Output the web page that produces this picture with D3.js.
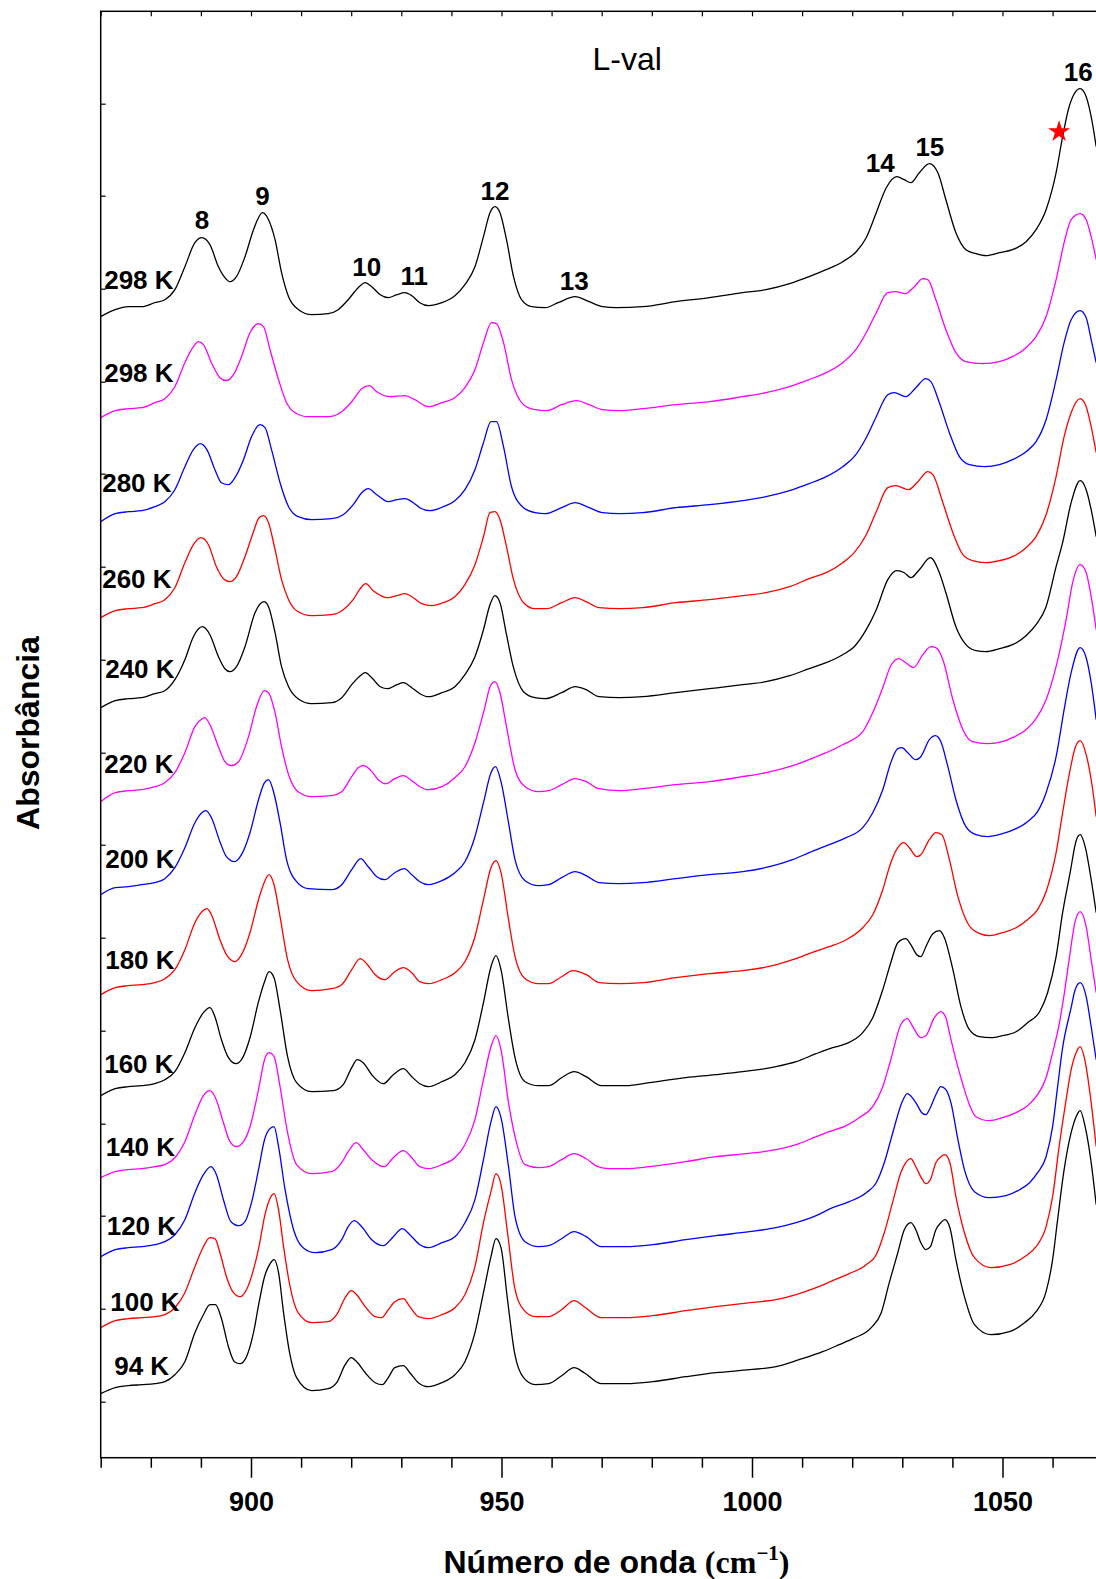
<!DOCTYPE html>
<html>
<head>
<meta charset="utf-8">
<script src="https://cdn.jsdelivr.net/npm/d3@7"></script>
<style>
  html, body { margin: 0; padding: 0; background: #fff; }
  svg { display: block; }
</style>
</head>
<body>
<svg id="chart" width="1096" height="1579"></svg>
<script>
// Stacked FTIR spectra of L-valine, 870–1070 cm-1, recorded from 298 K down to 94 K.
// Each spectrum is a list of [wavenumber (cm-1), absorbance (a.u., offset for stacking)].

const spec298a = [[870,1.141],[872.9,1.148],[875.5,1.151],[878.2,1.151],[880.8,1.155],[882.8,1.158],[884.8,1.168],[886.8,1.191],[888.8,1.215],[890.2,1.220],[891.8,1.213],[893.5,1.191],[894.8,1.180],[895.8,1.176],[897.1,1.181],[898.8,1.201],[900.5,1.228],[902.3,1.245],[903.5,1.238],[904.8,1.218],[906.1,1.185],[907.5,1.161],[909.5,1.148],[912.1,1.143],[915.4,1.144],[917.4,1.148],[919.4,1.158],[921.4,1.170],[922.8,1.175],[924.1,1.171],[925.8,1.163],[927.4,1.160],[929.1,1.163],[930.7,1.165],[932.1,1.162],[933.7,1.155],[935.4,1.152],[938.1,1.155],[940.7,1.162],[942.7,1.173],[944.7,1.191],[946.4,1.221],[947.7,1.245],[948.7,1.251],[949.7,1.245],[951.0,1.218],[952.4,1.181],[954.0,1.158],[956.0,1.151],[958.7,1.150],[961.3,1.155],[964.7,1.161],[967.5,1.156],[970.2,1.151],[972.9,1.150],[978.2,1.151],[984.8,1.156],[991.5,1.160],[998.1,1.165],[1002.8,1.168],[1007.5,1.174],[1011.4,1.181],[1014.8,1.188],[1018.1,1.196],[1020.8,1.206],[1022.8,1.220],[1024.8,1.245],[1026.8,1.270],[1028.9,1.281],[1030.4,1.278],[1031.7,1.275],[1033.4,1.285],[1035.4,1.294],[1037.1,1.285],[1038.7,1.258],[1040.7,1.225],[1042.7,1.208],[1044.7,1.204],[1046.7,1.202],[1049.4,1.205],[1052.0,1.208],[1054.7,1.216],[1056.7,1.228],[1058.7,1.248],[1060.7,1.285],[1062.0,1.321],[1063.3,1.351],[1065.5,1.369],[1066.7,1.361],[1067.7,1.341],[1068.7,1.311]];

const spec298b = [[870,1.040],[872.9,1.047],[875.5,1.049],[878.2,1.050],[880.8,1.055],[882.8,1.059],[884.8,1.071],[886.8,1.095],[888.5,1.111],[889.5,1.116],[890.5,1.113],[892.1,1.095],[893.8,1.080],[895.1,1.077],[896.5,1.083],[898.1,1.101],[899.8,1.125],[901.5,1.134],[902.5,1.131],[903.8,1.108],[905.5,1.078],[907.1,1.055],[908.8,1.045],[911.4,1.041],[915.4,1.041],[918.1,1.046],[920.1,1.056],[922.1,1.069],[923.6,1.072],[925.1,1.066],[927.7,1.061],[930.7,1.062],[932.7,1.058],[935.4,1.051],[938.1,1.055],[940.7,1.060],[942.7,1.070],[944.7,1.088],[946.4,1.115],[948.0,1.135],[949.0,1.134],[950.4,1.115],[952.0,1.078],[954.4,1.053],[956.7,1.048],[959.0,1.047],[962.0,1.053],[965.0,1.057],[967.5,1.053],[970.2,1.048],[973.5,1.047],[978.2,1.049],[984.8,1.053],[991.5,1.056],[998.1,1.061],[1002.8,1.065],[1007.5,1.071],[1011.4,1.078],[1014.8,1.085],[1018.1,1.095],[1020.4,1.106],[1022.8,1.125],[1024.8,1.145],[1027.1,1.165],[1028.7,1.166],[1030.6,1.164],[1032.4,1.171],[1034.1,1.179],[1035.1,1.178],[1036.7,1.158],[1038.7,1.128],[1040.7,1.105],[1042.7,1.096],[1046.0,1.094],[1049.4,1.096],[1052.0,1.101],[1054.7,1.110],[1056.7,1.121],[1058.7,1.141],[1060.7,1.178],[1062.3,1.215],[1063.7,1.238],[1065.5,1.244],[1066.7,1.238],[1067.7,1.221],[1068.7,1.198]];

const spec280 = [[870,0.936],[872.9,0.944],[875.5,0.946],[878.2,0.947],[880.8,0.951],[882.8,0.956],[884.8,0.968],[886.8,0.991],[888.5,1.008],[889.9,1.014],[891.2,1.008],[892.8,0.988],[894.1,0.975],[895.5,0.973],[896.8,0.980],[898.5,0.998],[900.1,1.021],[901.8,1.033],[902.8,1.030],[904.1,1.008],[905.8,0.975],[907.5,0.951],[909.4,0.941],[912.1,0.938],[916.1,0.939],[918.4,0.943],[920.4,0.953],[922.1,0.965],[923.4,0.969],[925.1,0.963],[927.4,0.956],[929.1,0.958],[930.7,0.959],[932.4,0.955],[933.7,0.950],[935.7,0.947],[938.4,0.951],[940.7,0.957],[942.7,0.968],[944.7,0.988],[946.4,1.015],[947.9,1.036],[949.0,1.036],[950.4,1.011],[952.0,0.971],[954.4,0.950],[956.7,0.945],[958.7,0.944],[962.0,0.950],[964.7,0.955],[967.5,0.950],[970.2,0.945],[973.5,0.944],[978.2,0.945],[984.8,0.950],[991.5,0.953],[998.1,0.957],[1002.8,0.961],[1007.5,0.967],[1011.4,0.974],[1014.8,0.981],[1018.1,0.991],[1020.4,1.001],[1022.8,1.020],[1024.8,1.041],[1027.1,1.063],[1028.4,1.065],[1030.7,1.061],[1032.7,1.070],[1034.7,1.079],[1035.7,1.076],[1037.4,1.055],[1039.4,1.025],[1041.4,1.001],[1043.4,0.993],[1046.4,0.991],[1049.4,0.993],[1052.0,0.998],[1054.7,1.006],[1056.7,1.016],[1058.7,1.038],[1060.7,1.078],[1062.3,1.115],[1063.7,1.138],[1065.5,1.147],[1066.7,1.140],[1067.7,1.118],[1068.7,1.095]];

const spec260 = [[870,0.840],[872.9,0.847],[875.5,0.849],[878.2,0.850],[880.8,0.854],[882.8,0.858],[884.8,0.870],[886.8,0.895],[888.5,0.913],[890.0,0.920],[891.5,0.913],[893.1,0.891],[894.5,0.879],[895.8,0.876],[897.1,0.881],[898.8,0.901],[900.5,0.926],[901.6,0.940],[902.5,0.942],[903.5,0.935],[904.8,0.908],[906.1,0.878],[907.5,0.858],[909.1,0.847],[912.1,0.842],[916.1,0.843],[918.4,0.848],[920.4,0.858],[921.8,0.869],[922.9,0.874],[924.4,0.867],[927.3,0.860],[929.1,0.862],[930.7,0.864],[932.4,0.860],[934.1,0.854],[936.1,0.852],[938.4,0.855],[940.7,0.861],[942.7,0.873],[944.7,0.893],[946.4,0.921],[947.7,0.945],[948.7,0.946],[949.7,0.938],[951.0,0.911],[952.4,0.878],[954.4,0.855],[956.7,0.849],[959.0,0.849],[962.0,0.855],[964.7,0.860],[966.9,0.856],[969.5,0.850],[973.5,0.849],[978.2,0.850],[984.8,0.855],[991.5,0.858],[998.1,0.862],[1002.8,0.865],[1007.5,0.871],[1011.4,0.879],[1014.8,0.885],[1018.1,0.895],[1020.4,0.905],[1022.8,0.923],[1024.8,0.946],[1027.1,0.970],[1028.7,0.972],[1031.2,0.968],[1033.1,0.976],[1035.1,0.986],[1036.1,0.983],[1038.1,0.955],[1040.1,0.925],[1042.1,0.903],[1044.0,0.897],[1046.7,0.895],[1049.4,0.897],[1052.0,0.901],[1054.7,0.910],[1056.7,0.921],[1058.7,0.943],[1060.7,0.981],[1062.3,1.021],[1063.7,1.045],[1065.5,1.059],[1066.7,1.051],[1067.7,1.031],[1068.7,1.005]];

const spec240 = [[870,0.750],[872.9,0.757],[875.5,0.759],[878.2,0.760],[880.8,0.764],[882.8,0.767],[884.8,0.778],[886.8,0.798],[888.5,0.821],[890.3,0.831],[891.8,0.823],[893.5,0.801],[894.8,0.789],[895.8,0.786],[897.1,0.791],[898.8,0.811],[900.8,0.845],[902.6,0.856],[903.5,0.851],[904.8,0.825],[906.1,0.791],[907.5,0.771],[909.4,0.759],[912.1,0.754],[916.1,0.755],[918.1,0.760],[920.1,0.773],[921.8,0.782],[922.8,0.785],[924.1,0.780],[925.8,0.771],[927.3,0.769],[929.1,0.773],[930.4,0.775],[932.1,0.770],[933.7,0.764],[935.4,0.761],[938.1,0.765],[940.7,0.771],[942.7,0.783],[944.7,0.801],[946.4,0.828],[947.7,0.853],[948.7,0.862],[949.7,0.855],[951.0,0.823],[952.4,0.790],[954.4,0.766],[956.7,0.760],[958.7,0.759],[962.0,0.765],[964.7,0.771],[966.9,0.768],[969.5,0.761],[973.5,0.760],[978.2,0.761],[984.8,0.765],[991.5,0.769],[998.1,0.773],[1002.8,0.776],[1007.5,0.782],[1011.4,0.789],[1014.8,0.795],[1018.1,0.803],[1020.4,0.811],[1022.8,0.828],[1024.8,0.848],[1027.1,0.878],[1028.9,0.887],[1030.4,0.885],[1031.7,0.880],[1033.4,0.888],[1035.6,0.900],[1037.4,0.885],[1038.7,0.865],[1040.7,0.831],[1042.7,0.813],[1044.7,0.807],[1046.7,0.806],[1049.4,0.809],[1052.0,0.813],[1054.7,0.822],[1056.7,0.833],[1058.7,0.851],[1060.7,0.891],[1062.0,0.915],[1063.7,0.955],[1065.5,0.977],[1066.7,0.968],[1067.7,0.948],[1068.7,0.921]];

const spec220 = [[870,0.656],[872.9,0.665],[875.5,0.667],[878.2,0.668],[880.8,0.671],[882.8,0.675],[884.8,0.685],[886.8,0.705],[888.8,0.731],[890.0,0.738],[890.8,0.740],[891.8,0.733],[893.5,0.711],[894.8,0.696],[896.0,0.692],[897.5,0.696],[899.5,0.721],[901.1,0.751],[902.7,0.767],[903.5,0.765],[904.8,0.745],[906.1,0.711],[907.5,0.683],[909.4,0.666],[912.1,0.661],[916.1,0.662],[918.1,0.666],[920.1,0.681],[921.4,0.690],[922.4,0.692],[923.8,0.688],[925.4,0.678],[926.9,0.674],[928.7,0.679],[930.4,0.682],[932.1,0.677],[933.7,0.671],[935.4,0.668],[938.1,0.671],[940.7,0.680],[942.7,0.691],[944.7,0.715],[946.4,0.745],[947.9,0.773],[948.7,0.776],[949.7,0.765],[951.0,0.731],[952.7,0.688],[954.7,0.671],[957.4,0.666],[959.4,0.667],[962.0,0.673],[964.7,0.679],[966.9,0.676],[969.5,0.669],[973.5,0.667],[978.2,0.669],[984.8,0.673],[991.5,0.676],[998.1,0.681],[1002.8,0.685],[1007.5,0.691],[1011.4,0.698],[1014.8,0.705],[1018.1,0.713],[1022.1,0.726],[1024.1,0.745],[1026.1,0.770],[1027.7,0.792],[1029.3,0.799],[1030.7,0.795],[1032.2,0.790],[1034.1,0.803],[1035.7,0.811],[1036.7,0.810],[1038.1,0.798],[1040.1,0.758],[1042.1,0.728],[1044.0,0.716],[1047.0,0.714],[1050.0,0.716],[1052.0,0.720],[1054.7,0.728],[1056.7,0.739],[1058.7,0.758],[1060.7,0.791],[1062.7,0.838],[1064.0,0.875],[1065.5,0.893],[1066.7,0.885],[1067.7,0.861],[1068.7,0.828]];

const spec200 = [[870,0.563],[872.9,0.570],[875.5,0.571],[878.2,0.573],[880.8,0.575],[882.8,0.579],[884.8,0.590],[886.8,0.610],[888.8,0.635],[890.2,0.645],[891.0,0.647],[892.1,0.640],[893.8,0.616],[895.1,0.601],[896.7,0.596],[898.1,0.603],[899.8,0.625],[901.5,0.658],[902.7,0.675],[903.5,0.678],[904.5,0.666],[905.8,0.635],[907.1,0.598],[909.1,0.576],[911.4,0.569],[916.1,0.568],[918.1,0.573],[920.1,0.588],[921.9,0.599],[923.4,0.591],[925.1,0.581],[926.7,0.578],[928.7,0.585],[930.6,0.589],[932.1,0.583],[933.7,0.576],[935.4,0.573],[938.1,0.577],[940.7,0.585],[942.7,0.596],[944.7,0.621],[946.4,0.655],[947.9,0.685],[948.8,0.691],[949.9,0.676],[951.4,0.635],[952.7,0.598],[954.7,0.577],[957.4,0.572],[959.4,0.573],[962.0,0.580],[964.7,0.586],[966.9,0.582],[969.5,0.575],[973.5,0.574],[978.2,0.575],[984.8,0.579],[991.5,0.583],[998.1,0.586],[1003.5,0.591],[1008.1,0.598],[1011.4,0.605],[1015.4,0.613],[1018.8,0.620],[1022.1,0.630],[1024.1,0.645],[1026.1,0.668],[1027.7,0.695],[1029.1,0.709],[1029.9,0.710],[1031.1,0.705],[1032.7,0.698],[1033.7,0.701],[1035.4,0.718],[1036.6,0.722],[1037.7,0.716],[1039.1,0.691],[1040.7,0.658],[1042.7,0.631],[1044.7,0.623],[1047.0,0.621],[1050.0,0.624],[1052.7,0.629],[1055.0,0.636],[1057.0,0.646],[1058.7,0.665],[1060.7,0.701],[1062.3,0.748],[1063.7,0.785],[1065.5,0.810],[1066.7,0.800],[1067.7,0.775],[1068.7,0.738]];

const spec180 = [[870,0.463],[872.9,0.470],[875.5,0.472],[878.2,0.473],[880.8,0.475],[882.8,0.479],[884.8,0.488],[886.8,0.508],[888.8,0.535],[890.2,0.546],[891.2,0.549],[892.1,0.543],[893.8,0.518],[895.1,0.503],[896.8,0.496],[898.1,0.503],[899.8,0.525],[901.5,0.558],[902.7,0.576],[903.6,0.583],[904.6,0.573],[905.9,0.538],[907.3,0.498],[909.1,0.476],[912.1,0.467],[916.1,0.469],[918.1,0.473],[920.1,0.488],[921.8,0.499],[923.1,0.494],[924.8,0.483],[926.7,0.478],[928.7,0.486],[930.4,0.490],[932.1,0.485],[933.7,0.476],[935.4,0.474],[938.1,0.478],[940.7,0.485],[942.7,0.496],[944.7,0.521],[946.4,0.558],[947.9,0.590],[948.9,0.597],[949.9,0.585],[951.4,0.538],[952.7,0.501],[954.7,0.479],[957.4,0.474],[959.4,0.474],[962.0,0.481],[964.3,0.487],[966.9,0.483],[969.5,0.475],[973.5,0.474],[978.2,0.475],[984.8,0.480],[991.5,0.484],[998.1,0.487],[1004.1,0.492],[1008.1,0.498],[1011.4,0.504],[1015.4,0.511],[1018.8,0.518],[1022.1,0.530],[1024.1,0.543],[1026.1,0.568],[1027.7,0.595],[1029.1,0.610],[1030.3,0.615],[1031.4,0.610],[1032.9,0.601],[1033.7,0.603],[1035.4,0.618],[1036.7,0.625],[1037.9,0.623],[1039.4,0.598],[1041.1,0.561],[1043.0,0.535],[1045.0,0.525],[1047.4,0.522],[1050.0,0.525],[1052.7,0.530],[1055.0,0.538],[1057.0,0.548],[1058.7,0.566],[1060.7,0.605],[1062.0,0.645],[1063.5,0.688],[1064.5,0.710],[1065.5,0.717],[1066.7,0.703],[1067.7,0.678],[1068.7,0.641]];

const spec160 = [[870,0.362],[872.9,0.369],[875.5,0.371],[878.2,0.372],[880.8,0.374],[882.8,0.378],[884.8,0.386],[886.8,0.405],[888.8,0.430],[890.5,0.445],[891.8,0.450],[892.8,0.441],[894.1,0.418],[895.5,0.400],[897.0,0.394],[898.1,0.398],[899.8,0.420],[901.5,0.456],[902.7,0.476],[903.6,0.486],[904.6,0.480],[905.8,0.448],[907.3,0.401],[909.1,0.375],[912.1,0.366],[916.4,0.367],[918.4,0.373],[920.1,0.390],[921.2,0.398],[922.4,0.395],[924.1,0.383],[926.4,0.374],[928.4,0.383],[930.4,0.389],[932.1,0.381],[933.7,0.374],[935.4,0.371],[938.1,0.376],[940.7,0.383],[942.7,0.395],[944.7,0.418],[946.4,0.455],[947.9,0.491],[948.9,0.502],[949.9,0.488],[951.4,0.438],[952.7,0.400],[954.7,0.376],[957.4,0.372],[959.4,0.372],[962.0,0.380],[964.5,0.386],[966.9,0.381],[969.9,0.372],[974.9,0.372],[979.5,0.375],[986.8,0.380],[992.8,0.383],[998.1,0.386],[1004.8,0.391],[1008.8,0.396],[1012.8,0.404],[1016.1,0.410],[1018.8,0.414],[1022.1,0.425],[1024.1,0.440],[1026.1,0.468],[1027.7,0.495],[1029.1,0.515],[1030.7,0.519],[1031.7,0.513],[1032.9,0.503],[1033.7,0.501],[1034.7,0.511],[1036.1,0.524],[1037.4,0.527],[1038.4,0.520],[1040.1,0.488],[1041.7,0.451],[1043.4,0.428],[1045.4,0.421],[1047.7,0.420],[1050.0,0.422],[1052.7,0.426],[1055.0,0.435],[1057.4,0.446],[1059.0,0.465],[1060.7,0.501],[1062.0,0.545],[1063.5,0.585],[1064.7,0.617],[1065.5,0.623],[1066.5,0.611],[1067.7,0.578],[1068.7,0.545]];

const spec140 = [[870,0.280],[872.9,0.286],[875.5,0.288],[878.2,0.289],[880.8,0.291],[882.8,0.293],[884.8,0.300],[886.8,0.316],[888.8,0.343],[890.5,0.362],[891.8,0.367],[892.9,0.360],[894.5,0.335],[895.8,0.316],[897.1,0.311],[898.5,0.316],[899.8,0.331],[901.5,0.368],[902.7,0.398],[903.6,0.405],[904.6,0.401],[905.8,0.371],[907.3,0.325],[909.1,0.293],[912.1,0.284],[916.1,0.286],[918.1,0.295],[919.4,0.306],[921.0,0.315],[922.4,0.308],[924.1,0.298],[926.6,0.291],[928.4,0.300],[930.4,0.307],[932.1,0.300],[933.7,0.291],[935.4,0.289],[938.1,0.293],[940.7,0.300],[942.7,0.313],[944.7,0.338],[946.4,0.378],[947.9,0.411],[948.9,0.422],[949.9,0.408],[951.4,0.355],[952.7,0.321],[954.7,0.293],[957.4,0.290],[959.4,0.291],[962.0,0.298],[964.5,0.304],[966.9,0.299],[969.2,0.291],[971.5,0.289],[974.9,0.289],[979.5,0.291],[986.8,0.296],[992.8,0.301],[998.8,0.304],[1004.8,0.308],[1008.8,0.313],[1012.8,0.321],[1015.4,0.326],[1018.8,0.332],[1021.4,0.340],[1024.1,0.351],[1026.1,0.371],[1027.7,0.398],[1029.7,0.433],[1031.0,0.439],[1032.1,0.431],[1033.7,0.420],[1034.7,0.422],[1036.4,0.440],[1037.7,0.446],[1038.7,0.440],[1039.4,0.425],[1040.7,0.398],[1042.1,0.373],[1043.4,0.353],[1044.7,0.341],[1047.4,0.337],[1050.0,0.340],[1052.7,0.345],[1055.0,0.352],[1057.0,0.363],[1058.7,0.380],[1060.0,0.405],[1061.3,0.433],[1062.3,0.463],[1063.3,0.498],[1064.5,0.536],[1065.5,0.546],[1066.7,0.531],[1067.7,0.498],[1068.7,0.465]];

const spec120 = [[870,0.201],[872.9,0.208],[875.5,0.210],[878.2,0.211],[880.8,0.213],[882.8,0.216],[884.8,0.223],[886.8,0.238],[888.8,0.265],[890.5,0.283],[892.0,0.291],[893.1,0.283],[894.5,0.258],[896.0,0.236],[897.6,0.232],[898.8,0.236],[900.1,0.255],[901.5,0.288],[902.7,0.318],[903.6,0.328],[904.6,0.331],[905.5,0.311],[906.8,0.268],[908.5,0.228],[910.4,0.210],[912.8,0.205],[916.1,0.208],[918.1,0.218],[919.4,0.231],[920.6,0.237],[922.1,0.231],[924.1,0.218],[926.4,0.212],[928.4,0.221],[930.2,0.229],[931.7,0.223],[933.7,0.213],[935.4,0.210],[938.1,0.215],[940.7,0.221],[942.7,0.235],[944.7,0.258],[946.4,0.298],[947.9,0.336],[948.9,0.351],[949.9,0.340],[951.4,0.291],[952.7,0.241],[954.7,0.216],[957.4,0.211],[959.4,0.212],[962.0,0.219],[964.5,0.226],[966.9,0.221],[969.9,0.211],[974.9,0.211],[980.2,0.213],[986.8,0.218],[992.8,0.222],[999.5,0.226],[1004.8,0.230],[1008.8,0.235],[1012.8,0.242],[1016.1,0.250],[1019.4,0.256],[1022.8,0.265],[1024.8,0.275],[1026.4,0.295],[1028.1,0.325],[1029.9,0.355],[1031.0,0.364],[1032.7,0.355],[1033.9,0.345],[1034.7,0.343],[1035.6,0.350],[1036.7,0.363],[1037.7,0.371],[1038.7,0.368],[1039.7,0.355],[1041.1,0.318],[1042.4,0.288],[1044.4,0.266],[1047.4,0.260],[1050.7,0.262],[1053.4,0.268],[1055.4,0.275],[1057.0,0.285],[1058.7,0.301],[1060.0,0.331],[1061.0,0.371],[1062.0,0.410],[1063.7,0.450],[1064.5,0.468],[1065.5,0.475],[1066.7,0.461],[1067.7,0.431],[1068.7,0.398]];

const spec100 = [[870,0.130],[872.9,0.137],[875.5,0.139],[878.2,0.140],[880.8,0.141],[882.8,0.143],[884.8,0.150],[886.8,0.165],[888.8,0.191],[890.5,0.211],[891.8,0.220],[892.8,0.219],[893.8,0.205],[895.1,0.181],[896.5,0.165],[897.8,0.161],[899.1,0.168],[900.5,0.188],[901.6,0.211],[902.7,0.241],[903.6,0.257],[904.6,0.264],[905.5,0.248],[906.5,0.211],[907.8,0.171],[909.4,0.145],[912.1,0.135],[915.4,0.136],[917.1,0.143],[918.8,0.160],[920.0,0.167],[921.1,0.163],[922.8,0.151],[924.8,0.141],[926.1,0.140],[927.4,0.148],[928.7,0.156],[930.4,0.159],[931.7,0.151],[933.4,0.141],[935.4,0.139],[938.1,0.143],[940.7,0.150],[942.7,0.163],[944.7,0.191],[946.4,0.235],[947.9,0.266],[948.9,0.284],[949.9,0.273],[951.2,0.225],[952.6,0.171],[954.4,0.148],[956.7,0.141],[959.4,0.141],[962.0,0.148],[964.5,0.157],[966.5,0.151],[969.9,0.140],[974.9,0.140],[980.2,0.142],[986.8,0.147],[992.8,0.151],[999.5,0.155],[1004.8,0.158],[1008.8,0.163],[1012.8,0.170],[1016.1,0.177],[1019.4,0.184],[1022.8,0.193],[1024.8,0.203],[1026.4,0.225],[1028.1,0.256],[1029.7,0.285],[1030.7,0.295],[1031.7,0.299],[1032.7,0.291],[1033.9,0.279],[1034.7,0.274],[1035.6,0.278],[1036.7,0.295],[1037.7,0.301],[1038.5,0.303],[1039.5,0.295],[1040.7,0.261],[1042.4,0.225],[1044.4,0.200],[1047.7,0.190],[1051.4,0.193],[1054.4,0.201],[1056.7,0.211],[1058.7,0.231],[1060.0,0.261],[1061.3,0.311],[1062.7,0.358],[1063.7,0.388],[1064.7,0.405],[1065.5,0.411],[1066.5,0.396],[1067.7,0.355],[1068.7,0.311]];

const spec94 = [[870,0.064],[872.9,0.070],[875.5,0.072],[878.2,0.073],[880.8,0.074],[882.8,0.076],[884.8,0.083],[886.8,0.096],[888.8,0.125],[890.5,0.143],[891.8,0.153],[892.9,0.153],[894.0,0.141],[895.5,0.111],[896.7,0.096],[897.8,0.094],[899.1,0.101],[900.5,0.125],[901.6,0.155],[902.7,0.181],[903.7,0.193],[904.6,0.198],[905.5,0.185],[906.5,0.145],[907.7,0.105],[909.1,0.080],[912.1,0.067],[915.4,0.069],[917.1,0.075],[918.8,0.093],[920.0,0.100],[921.1,0.096],[922.8,0.085],[924.8,0.075],[926.2,0.073],[927.4,0.080],[928.7,0.090],[930.4,0.092],[931.7,0.085],[933.4,0.075],[935.4,0.071],[938.1,0.075],[940.7,0.083],[942.7,0.096],[944.7,0.125],[946.4,0.165],[947.9,0.201],[948.9,0.219],[949.9,0.210],[951.2,0.158],[952.6,0.105],[954.4,0.080],[956.7,0.073],[959.4,0.074],[962.0,0.082],[964.5,0.090],[966.5,0.085],[969.9,0.074],[974.9,0.074],[980.2,0.076],[986.8,0.081],[992.8,0.085],[999.5,0.088],[1004.8,0.091],[1009.4,0.098],[1014.1,0.106],[1017.4,0.113],[1020.1,0.119],[1023.8,0.130],[1025.8,0.145],[1027.4,0.175],[1029.1,0.205],[1030.4,0.228],[1031.7,0.235],[1032.7,0.228],[1033.7,0.215],[1034.7,0.208],[1035.6,0.211],[1036.7,0.228],[1037.7,0.235],[1038.5,0.238],[1039.5,0.230],[1040.7,0.198],[1042.4,0.161],[1044.4,0.133],[1047.7,0.123],[1051.4,0.126],[1054.4,0.135],[1056.7,0.146],[1058.7,0.166],[1060.0,0.198],[1061.0,0.238],[1062.3,0.288],[1063.7,0.325],[1064.7,0.341],[1065.5,0.347],[1066.5,0.331],[1067.7,0.295],[1068.7,0.253]];

// Temperature labels, top to bottom, with the colour of each trace
const tempLabels = ["298 K", "298 K", "280 K", "260 K", "240 K", "220 K", "200 K", "180 K", "160 K", "140 K", "120 K", "100 K", "94 K"];
const traceColors = ["#000000", "#ff00ff", "#0000ff", "#ff0000", "#000000", "#ff00ff", "#0000ff", "#ff0000", "#000000", "#ff00ff", "#0000ff", "#ff0000", "#000000"];
const spectra = [spec298a, spec298b, spec280, spec260, spec240, spec220, spec200, spec180, spec160, spec140, spec120, spec100, spec94];

// Anchor of each temperature label (wavenumber, absorbance of the baseline under the text)
const tempLabelWn  = [870.7, 870.7, 870.3, 870.3, 870.9, 870.7, 870.9, 870.9, 870.7, 871.0, 871.2, 871.9, 872.7];
const tempLabelAbs = [1.169, 1.076, 0.966, 0.870, 0.780, 0.685, 0.590, 0.489, 0.385, 0.302, 0.223, 0.147, 0.083];

// Band numbering above the 298 K trace
const bandNames = ["8", "9", "10", "11", "12", "13", "14", "15", "16"];
const bandWn    = [890.2, 902.3, 923.1, 932.6, 948.7, 964.5, 1025.6, 1035.5, 1065.1];
const bandAbs   = [1.229, 1.253, 1.182, 1.173, 1.258, 1.168, 1.286, 1.302, 1.377];

// Marked shoulder of band 16
const starWn = 1061.3, starAbs = 1.326;

// Axis ticks
const xMajorTicks = [900, 950, 1000, 1050];
const xMinorTicks = [870, 880, 890, 910, 920, 930, 940, 960, 970, 980, 990, 1010, 1020, 1030, 1040, 1060, 1070];
const xTopTicks = [870, 880, 890, 900, 910, 920, 930, 940, 950, 960, 970, 980, 990, 1000, 1010, 1020, 1030, 1040, 1050, 1060, 1070];
const yTicks = [0.056, 0.149, 0.242, 0.334, 0.427, 0.520, 0.613, 0.705, 0.798, 0.891, 0.984, 1.076, 1.169, 1.262, 1.354];

const SANS = "'Liberation Sans', Arial, Helvetica, sans-serif";
const SERIF = "'Liberation Serif', 'Times New Roman', serif";

const svg = d3.select("#chart");
const plot = { left: 100.7, top: 11.3, bottom: 1457.7 };

const x = d3.scaleLinear().domain([870, 1080]).range([plot.left, plot.left + 210 * 5.01]);
const y = d3.scaleLinear().domain([0, 1.4464]).range([plot.bottom, plot.top]);

svg.append("rect").attr("width", 1096).attr("height", 1579).attr("fill", "#fff");

svg.append("defs").append("clipPath").attr("id", "plotClip")
  .append("rect")
  .attr("x", x(870)).attr("y", plot.top)
  .attr("width", x(1080) - x(870)).attr("height", plot.bottom - plot.top);

// Spectra
const line = d3.line()
  .x(d => x(d[0]))
  .y(d => y(d[1]))
  .curve(d3.curveMonotoneX);

svg.append("g").attr("clip-path", "url(#plotClip)")
  .selectAll("path.trace")
  .data(spectra)
  .join("path")
  .attr("class", "trace")
  .attr("d", line)
  .attr("fill", "none")
  .attr("stroke", (d, i) => traceColors[i])
  .attr("stroke-width", 1.3)
  .attr("stroke-linejoin", "round");

// Bottom axis: labelled major ticks and shorter minor ticks, pointing outwards
const gBottom = svg.append("g").attr("transform", `translate(0,${plot.bottom})`);
gBottom.append("g")
  .call(d3.axisBottom(x).tickValues(xMajorTicks).tickSize(20).tickPadding(14).tickFormat(d3.format("d")))
  .call(g => g.select(".domain").remove())
  .call(g => g.selectAll("line").attr("stroke", "#000").attr("stroke-width", 1.5))
  .call(g => g.selectAll("text")
    .attr("fill", "#000")
    .attr("font-family", SANS)
    .attr("font-weight", "bold")
    .attr("font-size", 27));
gBottom.append("g")
  .call(d3.axisBottom(x).tickValues(xMinorTicks).tickSize(10).tickFormat(""))
  .call(g => g.select(".domain").remove())
  .call(g => g.selectAll("line").attr("stroke", "#000").attr("stroke-width", 1.5));

// Top axis: small inward ticks
svg.append("g").attr("transform", `translate(0,${plot.top})`)
  .call(d3.axisTop(x).tickValues(xTopTicks).tickSize(-5).tickFormat(""))
  .call(g => g.select(".domain").remove())
  .call(g => g.selectAll("line").attr("stroke", "#000").attr("stroke-width", 1.2));

// Left axis: small inward ticks, no labels
svg.append("g").attr("transform", `translate(${plot.left},0)`)
  .call(d3.axisLeft(y).tickValues(yTicks).tickSize(-5).tickFormat(""))
  .call(g => g.select(".domain").remove())
  .call(g => g.selectAll("line").attr("stroke", "#000").attr("stroke-width", 1.2));

// Frame
svg.append("rect")
  .attr("x", x(870)).attr("y", plot.top)
  .attr("width", x(1080) - x(870)).attr("height", plot.bottom - plot.top)
  .attr("fill", "none").attr("stroke", "#000").attr("stroke-width", 1.5);

// Temperature labels
svg.append("g").selectAll("text")
  .data(tempLabels)
  .join("text")
  .attr("x", (d, i) => x(tempLabelWn[i]))
  .attr("y", (d, i) => y(tempLabelAbs[i]))
  .attr("font-family", SANS).attr("font-weight", "bold").attr("font-size", 26)
  .attr("fill", "#000")
  .text(d => d);

// Band numbers
svg.append("g").selectAll("text")
  .data(bandNames)
  .join("text")
  .attr("x", (d, i) => x(bandWn[i]))
  .attr("y", (d, i) => y(bandAbs[i]))
  .attr("text-anchor", "middle")
  .attr("font-family", SANS).attr("font-weight", "bold").attr("font-size", 26)
  .attr("fill", "#000")
  .text(d => d);

// Red star on the shoulder of band 16
svg.append("path")
  .attr("d", d3.symbol(d3.symbolStar, 150)())
  .attr("transform", `translate(${x(starWn)},${y(starAbs)})`)
  .attr("fill", "#ff0000");

// Sample name
svg.append("text")
  .attr("x", 592.5).attr("y", 69.5)
  .attr("font-family", SANS).attr("font-size", 32)
  .attr("fill", "#000")
  .text("L-val");

// Axis titles
const xTitle = svg.append("text")
  .attr("x", 616.5).attr("y", 1573)
  .attr("text-anchor", "middle")
  .attr("font-family", SANS).attr("font-weight", "bold").attr("font-size", 32)
  .attr("fill", "#000");
xTitle.append("tspan").text("Número de onda ");
xTitle.append("tspan").attr("font-family", SERIF).text("(cm");
xTitle.append("tspan").attr("font-family", SERIF).attr("font-size", 21).attr("dy", -13).text("−1");
xTitle.append("tspan").attr("font-family", SERIF).attr("dy", 13).text(")");

svg.append("text")
  .attr("transform", "translate(39,733) rotate(-90)")
  .attr("text-anchor", "middle")
  .attr("font-family", SANS).attr("font-weight", "bold").attr("font-size", 32)
  .attr("fill", "#000")
  .text("Absorbância");
</script>
</body>
</html>
